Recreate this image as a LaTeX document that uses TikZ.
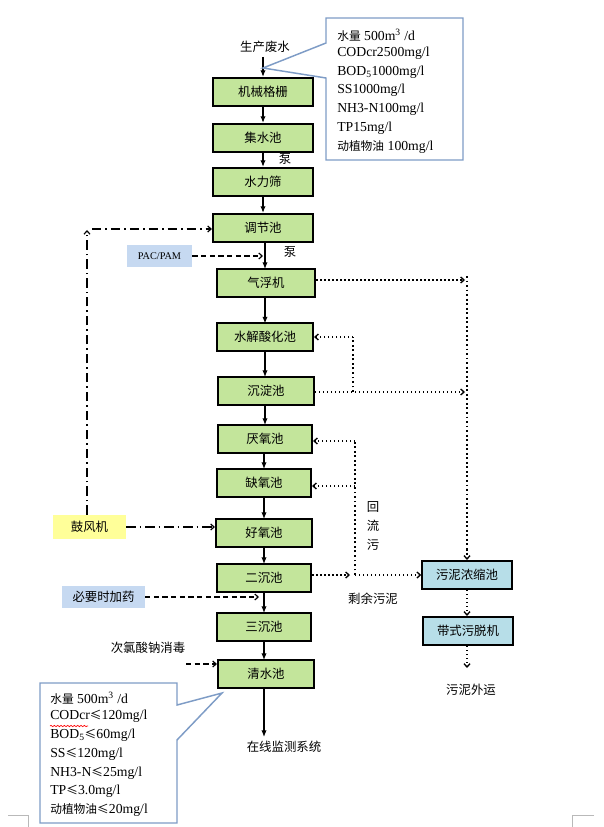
\documentclass[tikz,border=0pt]{standalone}
\usepackage{fontspec}
\setmainfont{Liberation Serif}
\newfontfamily\cjk{Noto Sans CJK SC}
\usetikzlibrary{arrows.meta,decorations.pathmorphing}
\definecolor{gfill}{RGB}{195,229,155}
\definecolor{bfill}{RGB}{183,222,232}
\definecolor{lblue}{RGB}{198,217,241}
\definecolor{lyel}{RGB}{255,255,153}
\definecolor{cborder}{RGB}{126,156,198}
\newcommand{\zhc}[1]{{\cjk\fontsize{8.8}{10}\selectfont #1}}
\begin{document}
\begin{tikzpicture}[x=0.75pt,y=-0.75pt,
  gbox/.style={draw, line width=1.6pt, fill=gfill, minimum width=72pt, minimum height=21pt, inner sep=0pt, font=\cjk\fontsize{9.3}{11}\selectfont},
  bbox/.style={draw, line width=1.6pt, fill=bfill, minimum width=67pt, minimum height=21pt, inner sep=0pt, font=\cjk\fontsize{9.3}{11}\selectfont},
  tag/.style={inner sep=0pt, minimum height=16pt, font=\cjk\fontsize{9.3}{11}\selectfont},
  lbl/.style={inner sep=0pt, font=\cjk\fontsize{9.3}{11}\selectfont},
  ctext/.style={anchor=west, inner sep=0pt, font=\fontsize{10.3}{12}\selectfont},
  flow/.style={line width=0.9pt, -{Latex[length=5pt,width=4pt]}},
  sludge/.style={line width=1pt, dotted, -{Straight Barb[length=2.5pt,width=4.5pt]}},
  sludgeline/.style={line width=1.4pt, dotted},
  dose/.style={line width=0.9pt, dash pattern=on 4pt off 2.5pt, -{Straight Barb[length=2.5pt,width=4.5pt]}},
  air/.style={line width=0.9pt, dash pattern=on 7pt off 3pt on 1.2pt off 3pt, -{Straight Barb[length=2.5pt,width=4.5pt]}},
  callout/.style={draw=cborder, line width=1.1pt, fill=white}
]
\useasboundingbox (0,0) rectangle (603,827);

% page corner marks
\draw[gray!55, line width=0.6pt] (8,815) -- (28,815) -- (28,827);
\draw[gray!55, line width=0.6pt] (594,815) -- (572,815) -- (572,827);

% main process boxes
\node[gbox, minimum width=75pt] (A) at (263,92) {机械格栅};
\node[gbox, minimum width=75pt] (B) at (263,138) {集水池};
\node[gbox, minimum width=75pt] (C) at (263,182) {水力筛};
\node[gbox, minimum width=75pt] (D) at (263,228) {调节池};
\node[gbox, minimum width=74pt] (E) at (266,283) {气浮机};
\node[gbox] (F) at (265,337) {水解酸化池};
\node[gbox] (G) at (266,391) {沉淀池};
\node[gbox, minimum width=70.5pt] (H) at (265,439) {厌氧池};
\node[gbox, minimum width=70.5pt] (I) at (264,483) {缺氧池};
\node[gbox] (J) at (264,533) {好氧池};
\node[gbox, minimum width=71pt] (K) at (264,578) {二沉池};
\node[gbox, minimum width=70.5pt] (L) at (264,627) {三沉池};
\node[gbox] (M) at (266,674) {清水池};

% sludge boxes
\node[bbox] (S1) at (467,575) {污泥浓缩池};
\node[bbox] (S2) at (468,631) {带式污脱机};

% additive boxes
\node[tag, fill=lblue, minimum width=49pt, font=\fontsize{7.7}{9}\selectfont] (pac) at (159.5,256) {PAC/PAM};
\node[tag, fill=lyel, minimum width=55pt, minimum height=18pt] (blow) at (89.5,527) {鼓风机};
\node[tag, fill=lblue, minimum width=62pt] (drug) at (103.5,597) {必要时加药};

% plain labels
\node[lbl] (src) at (265,47) {生产废水};
\node[lbl] (p1) at (285,159) {泵};
\node[lbl] (p2) at (290,252) {泵};
\node[lbl] (r1) at (373,507) {回};
\node[lbl] (r2) at (373,526) {流};
\node[lbl] (r3) at (373,545) {污};
\node[lbl] (rest) at (373,599) {剩余污泥};
\node[lbl] (naclo) at (148,648) {次氯酸钠消毒};
\node[lbl] (mon) at (284,747) {在线监测系统};
\node[lbl] (out) at (471,690) {污泥外运};
\coordinate (monin) at (264,737);

% main flow arrows
\draw[flow] (263,57) -- (A.north);
\draw[flow] (A.south) -- (A.south |- B.north);
\draw[flow] (B.south) -- (B.south |- C.north);
\draw[flow] (C.south) -- (C.south |- D.north);
\draw[flow] (265,243) -- (265,269);
\draw[flow] (265,297) -- (265,323.5);
\draw[flow] (265,350.5) -- (265,377);
\draw[flow] (265,405) -- (265,425);
\draw[flow] (264,453) -- (264,469);
\draw[flow] (264,497) -- (264,519);
\draw[flow] (264,547) -- (264,564);
\draw[flow] (264,592) -- (264,613);
\draw[flow] (264,641) -- (264,660);
\draw[flow] (264,688) -- (monin);

% dosing (dashed)
\draw[dose] (pac.east) -- (263,256);
\draw[dose] (drug.east) -- (259,597);
\coordinate (nc) at (186,664);
\draw[dose] (nc) -- (M.west |- nc);

% air (dash-dot)
\coordinate (ac) at (87,230);
\draw[air] (blow.north -| ac) -- (ac);
\draw[air] (92,229) -- (D.west |- 0,229);
\draw[air] (blow.east) -- (J.west |- blow.east);

% sludge lines (dotted)
\coordinate (q1) at (467,280);
\draw[sludge] (E.east |- q1) -- (465,280);
\draw[sludgeline] (467,276) -- (467,555);
\draw[sludge] (467,550) -- (S1.north);
\coordinate (j1) at (353,392);
\draw[sludge] (G.east |- j1) -- (465,392);
\draw[sludgeline] (j1) -- (353,337);
\draw[sludge] (353,337) -- (F.east);
\coordinate (j2) at (355,575);
\draw[sludge] (K.east |- j2) -- (350,575);
\draw[sludge] (j2) -- (S1.west);
\draw[sludgeline] (j2) -- (355,441);
\draw[sludge] (355,441) -- (H.east |- 0,441);
\draw[sludge] (355,486) -- (I.east |- 0,486);
\draw[sludge] (S1.south) -- (S2.north -| S1.south);
\draw[sludge] (S2.south -| S1.south) -- (467,668);

% callout 1 (raw water)
\draw[callout] (326,18) -- (463,18) -- (463,160) -- (326,160) -- (326,78) -- (263,68) -- (326,43) -- cycle;
\node[ctext] (c1a) at (337,35) {\zhc{水量} 500m\textsuperscript{3} /d};
\node[ctext] (c1b) at (337,53) {CODcr2500mg/l};
\node[ctext] (c1c) at (337,72) {BOD\textsubscript{5}1000mg/l};
\node[ctext] (c1d) at (337,90) {SS1000mg/l};
\node[ctext] (c1e) at (337,109) {NH3-N100mg/l};
\node[ctext] (c1f) at (337,128) {TP15mg/l};
\node[ctext] (c1g) at (337,147) {\zhc{动植物油} 100mg/l};

% callout 2 (effluent)
\draw[callout] (40,683) -- (177,683) -- (177,705) -- (222,693) -- (177,740) -- (177,823) -- (40,823) -- cycle;
\node[ctext] (c2a) at (50,698) {\zhc{水量} 500m\textsuperscript{3} /d};
\node[ctext] (c2b) at (50,716) {CODcr\zhc{≤}120mg/l};
\node[ctext] (c2c) at (50,735) {BOD\textsubscript{5}\zhc{≤}60mg/l};
\node[ctext] (c2d) at (50,754) {SS\zhc{≤}120mg/l};
\node[ctext] (c2e) at (50,773) {NH3-N\zhc{≤}25mg/l};
\node[ctext] (c2f) at (50,791) {TP\zhc{≤}3.0mg/l};
\node[ctext] (c2g) at (50,810) {\zhc{动植物油≤}20mg/l};
\draw[red, line width=0.5pt, decorate, decoration={snake, amplitude=0.5pt, segment length=2.5pt}] (50,726) -- (88,726);
\end{tikzpicture}
\end{document}
